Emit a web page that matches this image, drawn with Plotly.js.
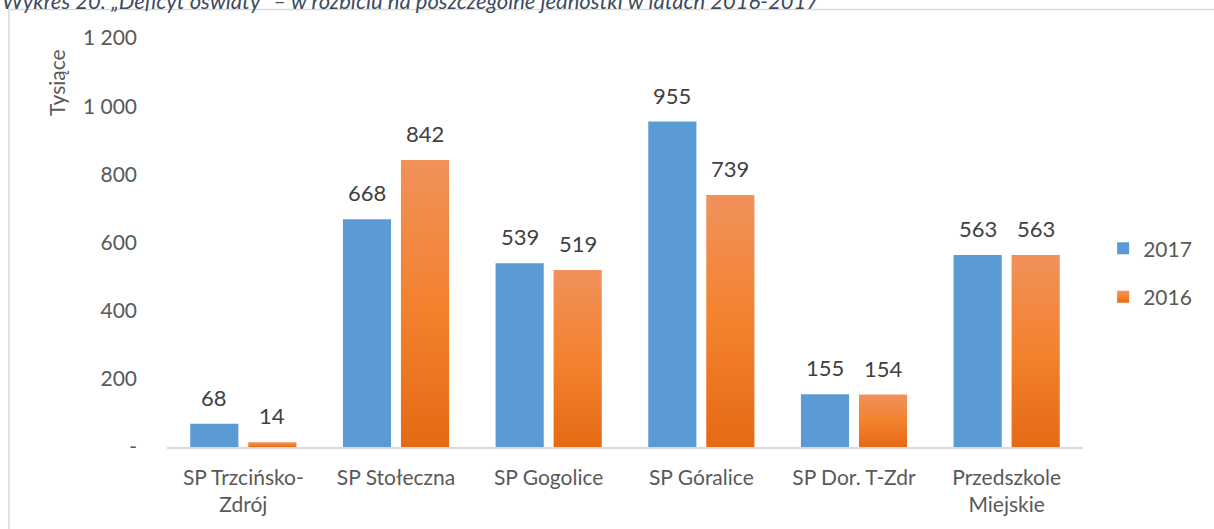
<!DOCTYPE html>
<html>
<head>
<meta charset="utf-8">
<script src="https://cdn.plot.ly/plotly-3.0.1.min.js"></script>
<style>
  html, body { margin: 0; padding: 0; background: #ffffff; }
  #chart { width: 1214px; height: 529px; }
</style>
</head>
<body>
<div id="chart"></div>
<script>
// ---- data ----
const categories = ["SP Trzcińsko-<br>Zdrój", "SP Stołeczna", "SP Gogolice", "SP Góralice", "SP Dor. T-Zdr", "Przedszkole<br>Miejskie"];
const seriesNames = ["2017", "2016"];
const values2017 = [68, 668, 539, 955, 155, 563];
const values2016 = [14, 842, 519, 739, 154, 563];
const yTickVals = [0, 200, 400, 600, 800, 1000, 1200];
const yTickText = ["-", "200", "400", "600", "800", "1 000", "1 200"];
const yTitle = "Tysiące";
const headerText = "Wykres 20. „Deficyt oświaty” – w rozbiciu na poszczególne jednostki w latach 2016-2017";

// ---- styles ----
const FONT = "Lato, 'Open Sans', sans-serif";
const BLUE = "#5B9BD5";
const ORANGE = "#F07F2F";

const traces = [
  { type: "bar", name: seriesNames[0], x: categories, y: values2017,
    marker: { color: BLUE }, legendgroup: "a", hoverinfo: "x+y" },
  { type: "bar", name: seriesNames[1], x: categories, y: values2016,
    marker: { color: ORANGE }, legendgroup: "b", hoverinfo: "x+y" }
];

const annotations = [];
[values2017, values2016].forEach((vals, si) => {
  vals.forEach((v, i) => {
    annotations.push({
      x: categories[i], y: v, xref: "x", yref: "y",
      text: String(v), showarrow: false,
      xshift: si === 0 ? -29 : 29, yshift: 11, yanchor: "bottom",
      font: { family: FONT, size: 22, color: "#404040" }
    });
  });
});
annotations.push({
  xref: "paper", yref: "paper", x: -0.12, y: 0.89,
  text: yTitle, textangle: -90, showarrow: false,
  xanchor: "center", yanchor: "middle",
  font: { family: FONT, size: 21, color: "#595959" }
});
annotations.push({
  xref: "paper", yref: "paper", x: -0.182, y: 1.092,
  text: headerText, showarrow: false,
  xanchor: "left", yanchor: "middle",
  font: { family: FONT, size: 22, color: "#3E4B5E", style: "italic" }
});

const layout = {
  width: 1214, height: 529,
  margin: { l: 167, r: 131, t: 38, b: 82, pad: 0 },
  paper_bgcolor: "#ffffff", plot_bgcolor: "#ffffff",
  barmode: "group", bargap: 0.24, bargroupgap: 0.17,
  showlegend: true,
  legend: {
    x: 1.022, y: 0.535, xanchor: "left", yanchor: "top",
    traceorder: "grouped", tracegroupgap: 18,
    font: { family: FONT, size: 21, color: "#595959" },
    bgcolor: "rgba(0,0,0,0)"
  },
  xaxis: {
    type: "category", showgrid: false, zeroline: false,
    showline: true, linecolor: "#D9D9D9", linewidth: 1.5,
    ticks: "", ticklabelstandoff: 11,
    tickfont: { family: FONT, size: 21, color: "#595959" },
    fixedrange: true
  },
  yaxis: {
    range: [0, 1200], showgrid: false, zeroline: false, showline: false,
    tickmode: "array", tickvals: yTickVals, ticktext: yTickText,
    ticks: "", ticklabelstandoff: 29,
    tickfont: { family: FONT, size: 21, color: "#595959" },
    fixedrange: true
  },
  annotations: annotations,
  shapes: [{
    type: "rect", xref: "paper", yref: "paper", layer: "below",
    x0: -0.1725, y0: 1.0697, x1: 1.3, y1: -0.4,
    line: { color: "#D9D9D9", width: 1.5 }, fillcolor: "rgba(0,0,0,0)"
  }]
};

function applyGradient(gd) {
  const svg = gd.querySelector("svg.main-svg");
  if (!svg) return;
  const ns = "http://www.w3.org/2000/svg";
  if (!document.getElementById("orangeGrad")) {
    let defs = svg.querySelector("defs");
    if (!defs) { defs = document.createElementNS(ns, "defs"); svg.insertBefore(defs, svg.firstChild); }
    const g = document.createElementNS(ns, "linearGradient");
    g.setAttribute("id", "orangeGrad");
    g.setAttribute("x1", "0"); g.setAttribute("y1", "0");
    g.setAttribute("x2", "0"); g.setAttribute("y2", "1");
    [["0", "#F1915A"], ["0.5", "#F3822F"], ["1", "#E56A15"]].forEach(([o, c]) => {
      const s = document.createElementNS(ns, "stop");
      s.setAttribute("offset", o); s.setAttribute("stop-color", c);
      g.appendChild(s);
    });
    defs.appendChild(g);
  }
  const barTraces = gd.querySelectorAll(".barlayer .trace");
  if (barTraces[1]) barTraces[1].querySelectorAll("path").forEach(p => { p.style.fill = "url(#orangeGrad)"; });
  const legTraces = gd.querySelectorAll(".legend .traces");
  if (legTraces[1]) legTraces[1].querySelectorAll(".legendpoints path").forEach(p => { p.style.fill = "url(#orangeGrad)"; });
}

const gd = document.getElementById("chart");
Plotly.newPlot(gd, traces, layout, { displayModeBar: false, staticPlot: true }).then(() => {
  applyGradient(gd);
  gd.on("plotly_afterplot", () => applyGradient(gd));
});
</script>
</body>
</html>
